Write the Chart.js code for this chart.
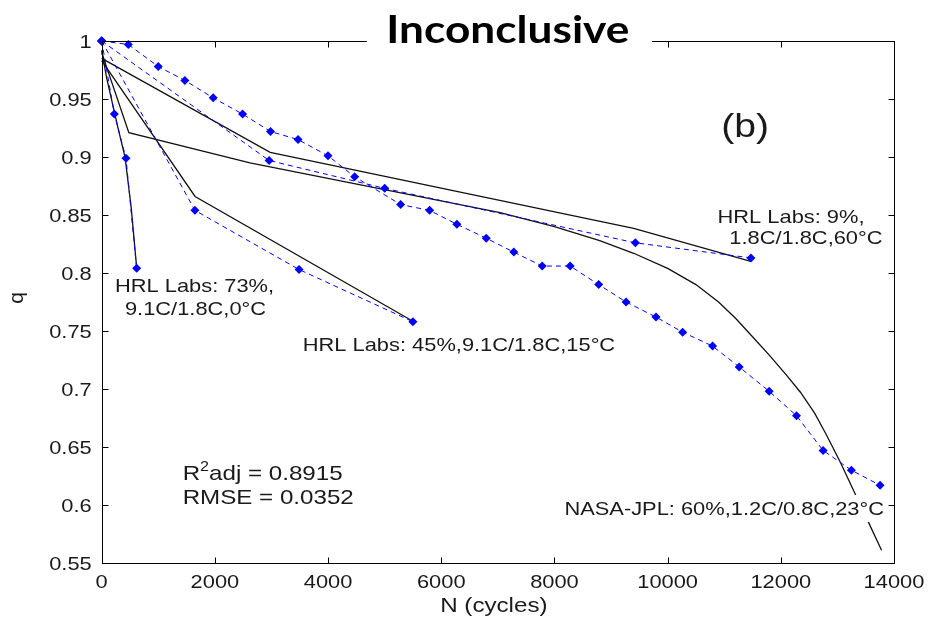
<!DOCTYPE html>
<html><head><meta charset="utf-8">
<script src="https://cdn.jsdelivr.net/npm/chart.js@4/dist/chart.umd.min.js"></script>
<style>html,body{margin:0;padding:0;background:#fff;}canvas{display:block;}</style>
</head><body>
<canvas id="c" width="928" height="617"></canvas>
<script>
// tick labels
const xTickValues = [0,2000,4000,6000,8000,10000,12000,14000];
const yTickValues = [0.55,0.6,0.65,0.7,0.75,0.8,0.85,0.9,0.95,1];

// measured data (blue markers)
const nasaN = [0,470,999,1470,1970,2489,2983,3470,3999,4470,5282,5794,6276,6795,7282,7783,8277,8782,9266,9795,10265,10794,11265,11795,12277,12748,13247,13754];
const nasaQ = [1,0.997,0.978,0.966,0.951,0.937,0.922,0.915,0.901,0.883,0.859,0.854,0.842,0.830,0.818,0.806,0.806,0.790,0.775,0.762,0.749,0.737,0.719,0.698,0.677,0.647,0.630,0.617];
const hrl9N = [0,2958,5000,9430,11472];
const hrl9Q = [1,0.897,0.873,0.826,0.813];
const hrl45N = [0,1647,3487,5499];
const hrl45Q = [1,0.854,0.803,0.758];
const hrl73N = [0,223,429,618];
const hrl73Q = [1,0.937,0.899,0.804];

// model fits (black lines)
const nasaFitN = [0,480,2620,7040,8000,8800,9400,10000,10500,10900,11200,11500,11800,12100,12350,12600,12800,13050,13300,13550,13780];
const nasaFitQ = [0.99,0.921,0.895,0.852,0.840,0.828,0.817,0.804,0.790,0.775,0.761,0.745,0.729,0.712,0.697,0.679,0.661,0.637,0.611,0.585,0.561];
const hrl9FitN = [0,2977,9400,11470];
const hrl9FitQ = [0.985,0.904,0.8385,0.810];
const hrl45FitN = [0,1650,5515];
const hrl45FitQ = [0.983,0.866,0.758];
const hrl73FitN = [0,88,293,412,520,615];
const hrl73FitQ = [0.992,0.968,0.924,0.900,0.857,0.806];

function pts(xs, ys){ return xs.map((v,i)=>({x:v, y:ys[i]})); }

const FONT = '"Liberation Sans", Arial, sans-serif';
const SX = 1.15;               // horizontal stretch of the original raster text
const TXT = '#1a1a1a';
const blue = '#0000ff';
const dataStyle = {showLine:true, borderColor:blue, borderWidth:1, borderDash:[5,4],
  pointStyle:'rectRot', pointRadius:4.5, pointBackgroundColor:blue, pointBorderColor:blue,
  pointBorderWidth:0, clip:false, order:1};
const fitStyle = {showLine:true, borderColor:'#111', borderWidth:1.3, pointRadius:0, clip:false, order:2};

const notes = [
  {t:'HRL Labs: 73%,', x:235, y:0.7834},
  {t:'9.1C/1.8C,0\u00B0C', x:411, y:0.7638},
  {t:'HRL Labs: 45%,9.1C/1.8C,15\u00B0C', x:3553, y:0.7328},
  {t:'HRL Labs: 9%,', x:10882, y:0.8434},
  {t:'1.8C/1.8C,60\u00B0C', x:11089, y:0.8247},
  {t:'NASA-JPL: 60%,1.2C/0.8C,23\u00B0C', x:13824, y:0.5914, align:'right', bg:true}
];

function sText(ctx, t, x, y, size, align, base){
  ctx.save();
  ctx.font = size + 'px ' + FONT;
  ctx.textAlign = align || 'left';
  ctx.textBaseline = base || 'alphabetic';
  ctx.translate(x, y); ctx.scale(SX, 1);
  ctx.fillText(t, 0, 0);
  ctx.restore();
}
function sWidth(ctx, t, size){
  ctx.save(); ctx.font = size + 'px ' + FONT;
  const w = ctx.measureText(t).width * SX; ctx.restore(); return w;
}

const overlay = {
  id:'overlay',
  afterDatasetsDraw(chart){
    const {ctx, chartArea:a, scales:{x, y}} = chart;
    ctx.save();
    ctx.fillStyle = TXT;
    // notes
    notes.forEach(n=>{
      const px = x.getPixelForValue(n.x), py = y.getPixelForValue(n.y);
      if (n.bg){
        const w = sWidth(ctx, n.t, 19);
        const l = n.align==='right' ? px - w : px;
        ctx.fillStyle = '#fff';
        ctx.fillRect(l-2, py-20, w+4, 27);
        ctx.fillStyle = TXT;
      }
      sText(ctx, n.t, px, py, 19, n.align || 'left');
    });
    // (b)
    sText(ctx, '(b)', x.getPixelForValue(11371), y.getPixelForValue(0.9276)+12, 34, 'center');
    // R2 / RMSE
    const rx = x.getPixelForValue(1430), ry = y.getPixelForValue(0.6216);
    sText(ctx, 'R', rx, ry, 21);
    const w1 = sWidth(ctx, 'R', 21);
    sText(ctx, '2', rx + w1, ry - 9, 14);
    const w2 = sWidth(ctx, '2', 14);
    sText(ctx, 'adj = 0.8915', rx + w1 + w2, ry, 21);
    sText(ctx, 'RMSE = 0.0352', rx, y.getPixelForValue(0.6006), 21);

    // tick labels
    xTickValues.forEach(v=>{ sText(ctx, String(v), x.getPixelForValue(v), a.bottom+25, 19, 'center'); });
    yTickValues.forEach(v=>{ sText(ctx, String(parseFloat(v.toFixed(2))), a.left-10, y.getPixelForValue(v)+7, 19, 'right'); });

    // frame + inward ticks
    ctx.strokeStyle = '#000'; ctx.lineWidth = 1;
    const L = Math.round(a.left)+0.5, R = Math.round(a.right)+0.5, T = Math.round(a.top)+0.5, B = Math.round(a.bottom)+0.5;
    ctx.strokeRect(L, T, R-L, B-T);
    ctx.beginPath();
    const tl = 6;
    xTickValues.forEach(v=>{ const p = Math.round(x.getPixelForValue(v))+0.5;
      ctx.moveTo(p,B); ctx.lineTo(p,B-tl); ctx.moveTo(p,T); ctx.lineTo(p,T+tl); });
    yTickValues.forEach(v=>{ const p = Math.round(y.getPixelForValue(v))+0.5;
      ctx.moveTo(L,p); ctx.lineTo(L+tl,p); ctx.moveTo(R,p); ctx.lineTo(R-tl,p); });
    ctx.stroke();

    // axis titles
    sText(ctx, 'N (cycles)', (a.left+a.right)/2 - 4, a.bottom+49, 21, 'center');
    ctx.save();
    ctx.translate(a.left-84, (a.top+a.bottom)/2 - 4);
    ctx.rotate(-Math.PI/2);
    ctx.font = '21px ' + FONT; ctx.textAlign = 'center'; ctx.textBaseline = 'middle';
    ctx.fillText('q', 0, 0);
    ctx.restore();

    // title with white box
    const cx = (a.left+a.right)/2 + 10;
    ctx.fillStyle = '#fff';
    ctx.fillRect(cx-141, 0, 285, a.top+8);
    ctx.font = 'bold 38px Lato';
    const tw = ctx.measureText('Inconclusive').width;
    ctx.save();
    ctx.translate(cx, a.top+2);
    ctx.scale(243/tw, 1);
    ctx.fillStyle = '#000';
    ctx.textAlign = 'center'; ctx.textBaseline = 'alphabetic';
    ctx.fillText('Inconclusive', 0, 0);
    ctx.restore();
    ctx.restore();
  }
};

new Chart(document.getElementById('c'), {
  type:'scatter',
  data:{datasets:[
    Object.assign({data:pts(nasaFitN, nasaFitQ)}, fitStyle),
    Object.assign({data:pts(hrl9FitN, hrl9FitQ)}, fitStyle),
    Object.assign({data:pts(hrl45FitN, hrl45FitQ)}, fitStyle),
    Object.assign({data:pts(hrl73FitN, hrl73FitQ)}, fitStyle),
    Object.assign({data:pts(nasaN, nasaQ)}, dataStyle),
    Object.assign({data:pts(hrl9N, hrl9Q)}, dataStyle),
    Object.assign({data:pts(hrl45N, hrl45Q)}, dataStyle),
    Object.assign({data:pts(hrl73N, hrl73Q)}, dataStyle)
  ]},
  options:{
    responsive:false, animation:false, devicePixelRatio:1,
    layout:{padding:{left:0, right:34, top:41, bottom:0}},
    plugins:{legend:{display:false}, tooltip:{enabled:false}},
    scales:{
      x:{type:'linear', min:0, max:14000,
        afterBuildTicks:s=>{ s.ticks = xTickValues.map(v=>({value:v})); },
        afterFit:s=>{ s.height = 54; },
        grid:{display:false, drawTicks:false}, border:{display:false},
        ticks:{display:false}},
      y:{type:'linear', min:0.55, max:1,
        afterBuildTicks:s=>{ s.ticks = yTickValues.map(v=>({value:v})); },
        afterFit:s=>{ s.width = 101.7; },
        grid:{display:false, drawTicks:false}, border:{display:false},
        ticks:{display:false}}
    }
  },
  plugins:[overlay]
});
</script>
</body></html>
